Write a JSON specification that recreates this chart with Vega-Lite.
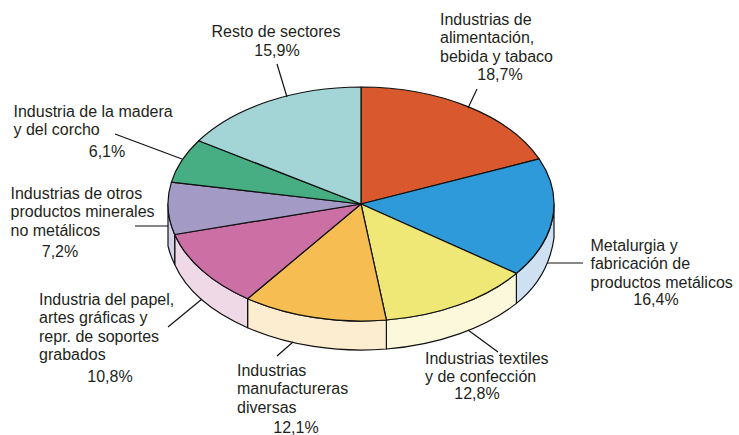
{
"$schema":"https://vega.github.io/schema/vega-lite/v6.json",
"width":739,"height":435,"padding":0,"autosize":{"type":"none"},"background":"white",
"config":{"view":{"stroke":null},"locale":{"number":{"decimal":",","thousands":".","grouping":[3],"currency":["","€"]}},"text":{"font":"Liberation Sans","fontSize":16,"fill":"#231F20","baseline":"alphabetic","lineBreak":"\n","lineHeight":18.3}},
"data":{"values":[
{"sector":"alimentacion","name":"Industrias de\nalimentación,\nbebida y tabaco","share":0.187},
{"sector":"metalurgia","name":"Metalurgia y\nfabricación de\nproductos metálicos","share":0.164},
{"sector":"textil","name":"Industrias textiles\ny de confección","share":0.128},
{"sector":"diversas","name":"Industrias\nmanufactureras\ndiversas","share":0.121},
{"sector":"papel","name":"Industria del papel,\nartes gráficas y\nrepr. de soportes\ngrabados","share":0.108},
{"sector":"minerales","name":"Industrias de otros\nproductos minerales\nno metálicos","share":0.072},
{"sector":"madera","name":"Industria de la madera\ny del corcho","share":0.061},
{"sector":"resto","name":"Resto de sectores","share":0.159}
]},
"encoding":{
"x":{"datum":361,"type":"quantitative","scale":{"domain":[0,739],"nice":false,"zero":false},"axis":null},
"y":{"datum":204,"type":"quantitative","scale":{"domain":[0,435],"reverse":true,"nice":false,"zero":false},"axis":null}
},
"layer":[
{"transform":[{"filter":{"field":"sector","oneOf":["metalurgia","textil","diversas","papel","minerales"]}}],
"mark":{"type":"point","filled":true,"opacity":1,"size":4,"stroke":"#111","strokeWidth":1.2,"strokeJoin":"round"},
"encoding":{
"shape":{"field":"sector","type":"nominal","legend":null,"scale":{"domain":["metalurgia","textil","diversas","papel","minerales"],"range":[
"M193 0C193 25 179.8 49.3 155.4 69.4L155.4 99.4C179.8 80 190 55 193 34Z",
"M155.4 69.4C124.3 95 77.4 111.8 25.4 116L25.4 145C77.4 140.8 124.3 124 155.4 99.4Z",
"M25.4 116C-23.7 120 -73.4 112.3 -113.4 94.7L-113.4 123.7C-73.4 141.3 -23.7 149 25.4 145Z",
"M-113.4 94.7C-149.1 79 -174.8 56.3 -186.3 30.5L-186.3 60.5C-174.8 86.3 -149.1 108 -113.4 123.7Z",
"M-186.3 30.5C-190.7 20.5 -193 10.3 -193 0L-193 42C-191 50 -189 55 -186.3 60.5Z"
]}},
"fill":{"field":"sector","type":"nominal","legend":null,"scale":{"domain":["metalurgia","textil","diversas","papel","minerales"],"range":["#CFE0F3","#FBF8DC","#FCECD0","#F0D9E7","#D6D3E8"]}}
}},
{"mark":{"type":"point","filled":true,"opacity":1,"size":4,"stroke":"#111","strokeWidth":1.2,"strokeJoin":"round"},
"encoding":{
"shape":{"field":"sector","type":"nominal","legend":null,"scale":{"domain":["alimentacion","metalurgia","textil","diversas","papel","minerales","madera","resto"],"range":[
"M0 0L0 -117C77.8 -117 148.1 -88.7 178.1 -45.1Z",
"M0 0L178.1 -45.1C204.2 -7.2 195.6 36.3 155.4 69.4Z",
"M0 0L155.4 69.4C124.3 95 77.4 111.8 25.4 116Z",
"M0 0L25.4 116C-23.7 120 -73.4 112.3 -113.4 94.7Z",
"M0 0L-113.4 94.7C-149.1 79 -174.8 56.3 -186.3 30.5Z",
"M0 0L-186.3 30.5C-193.9 13.4 -195.1 -4.5 -189.6 -21.9Z",
"M0 0L-189.6 -21.9C-185 -36.6 -175.7 -50.7 -162.3 -63.3Z",
"M0 0L-162.3 -63.3C-126.8 -96.8 -65.6 -117 0 -117Z"
]}},
"fill":{"field":"sector","type":"nominal","legend":null,"scale":{"domain":["alimentacion","metalurgia","textil","diversas","papel","minerales","madera","resto"],"range":["#D9582E","#2F9AD9","#EFE876","#F6BE52","#CB6FA4","#A49AC6","#46AE82","#A4D5D6"]}}
}},
{"mark":{"type":"point","filled":false,"opacity":1,"size":4,"stroke":"#111","strokeWidth":1.2},
"encoding":{
"y":{"datum":203},
"shape":{"field":"sector","type":"nominal","legend":null,"scale":{"domain":["alimentacion","metalurgia","textil","diversas","papel","minerales","madera","resto"],"range":[
"M116 -114L107 -95","M222 60L186 60","M137 149L107 127","M-84 153L-68 139","M-193 124L-159 96","M-226 23L-193 23","M-246 -69L-179 -44","M-84 -139L-74 -106"
]}}
}},
{"transform":[{"filter":"datum.sector==='alimentacion'"}],"mark":{"type":"text","align":"left"},"encoding":{"x":{"datum":440},"y":{"datum":25},"text":{"field":"name"}}},
{"transform":[{"filter":"datum.sector==='alimentacion'"}],"mark":{"type":"text","align":"center"},"encoding":{"x":{"datum":500},"y":{"datum":80},"text":{"field":"share","format":".1%"}}},
{"transform":[{"filter":"datum.sector==='metalurgia'"}],"mark":{"type":"text","align":"left"},"encoding":{"x":{"datum":590.5},"y":{"datum":251},"text":{"field":"name"}}},
{"transform":[{"filter":"datum.sector==='metalurgia'"}],"mark":{"type":"text","align":"center"},"encoding":{"x":{"datum":656},"y":{"datum":305},"text":{"field":"share","format":".1%"}}},
{"transform":[{"filter":"datum.sector==='textil'"}],"mark":{"type":"text","align":"left"},"encoding":{"x":{"datum":425},"y":{"datum":364},"text":{"field":"name"}}},
{"transform":[{"filter":"datum.sector==='textil'"}],"mark":{"type":"text","align":"center"},"encoding":{"x":{"datum":477},"y":{"datum":399},"text":{"field":"share","format":".1%"}}},
{"transform":[{"filter":"datum.sector==='diversas'"}],"mark":{"type":"text","align":"left"},"encoding":{"x":{"datum":237},"y":{"datum":376},"text":{"field":"name"}}},
{"transform":[{"filter":"datum.sector==='diversas'"}],"mark":{"type":"text","align":"center"},"encoding":{"x":{"datum":296},"y":{"datum":433},"text":{"field":"share","format":".1%"}}},
{"transform":[{"filter":"datum.sector==='papel'"}],"mark":{"type":"text","align":"left"},"encoding":{"x":{"datum":39},"y":{"datum":305},"text":{"field":"name"}}},
{"transform":[{"filter":"datum.sector==='papel'"}],"mark":{"type":"text","align":"center"},"encoding":{"x":{"datum":110},"y":{"datum":381.5},"text":{"field":"share","format":".1%"}}},
{"transform":[{"filter":"datum.sector==='minerales'"}],"mark":{"type":"text","align":"left"},"encoding":{"x":{"datum":10.5},"y":{"datum":199},"text":{"field":"name"}}},
{"transform":[{"filter":"datum.sector==='minerales'"}],"mark":{"type":"text","align":"center"},"encoding":{"x":{"datum":60},"y":{"datum":256.5},"text":{"field":"share","format":".1%"}}},
{"transform":[{"filter":"datum.sector==='madera'"}],"mark":{"type":"text","align":"left"},"encoding":{"x":{"datum":13.5},"y":{"datum":117},"text":{"field":"name"}}},
{"transform":[{"filter":"datum.sector==='madera'"}],"mark":{"type":"text","align":"center"},"encoding":{"x":{"datum":107},"y":{"datum":157},"text":{"field":"share","format":".1%"}}},
{"transform":[{"filter":"datum.sector==='resto'"}],"mark":{"type":"text","align":"center"},"encoding":{"x":{"datum":276},"y":{"datum":37},"text":{"field":"name"}}},
{"transform":[{"filter":"datum.sector==='resto'"}],"mark":{"type":"text","align":"center"},"encoding":{"x":{"datum":277},"y":{"datum":56},"text":{"field":"share","format":".1%"}}}
],
"resolve":{"scale":{"shape":"independent","fill":"independent"}}
}
